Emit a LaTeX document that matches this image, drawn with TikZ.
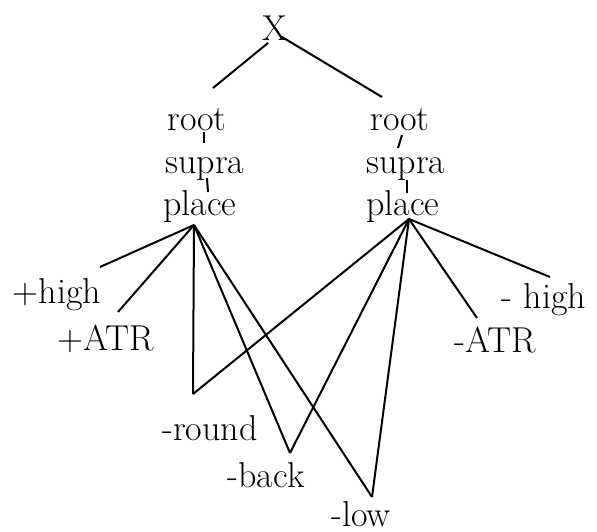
\documentclass[tikz,border=0pt]{standalone}
\usepackage{amssymb,amsmath}
\usepackage{tikz}

\begin{document}
\begin{tikzpicture}[x=0.75pt,y=-0.75pt,
  feat/.style={font=\fontsize{27}{30}\selectfont,inner sep=0pt,anchor=base},
  tie/.style={line width=1.5pt}]
\useasboundingbox (0,0) rectangle (597,532);
% labels
\node[feat] (X) at (275,40) {X};
\node[feat] (rootL) at (197,130) {root};
\node[feat] (supraL) at (205,173) {supra};
\node[feat] (placeL) at (200,215) {place};
\node[feat] (rootR) at (400,130) {root};
\node[feat] (supraR) at (406,173) {supra};
\node[feat] (placeR) at (403,215) {place};
\node[feat] (highP) at (57,303) {+high};
\node[feat] (atrP) at (106,350) {+ATR};
\node[feat] (round) at (210,440) {-round};
\node[feat] (back) at (266,487) {-back};
\node[feat] (low) at (361,526) {-low};
\node[feat] (atrM) at (495,352) {-ATR};
\node[feat] (highM) at (544,308) {- high};
% line ends
\coordinate (xL) at (268,43);
\coordinate (xR) at (282,37);
\coordinate (rL) at (213,88);
\coordinate (rR) at (382,97);
\coordinate (pL) at (194,225);
\coordinate (pR) at (409,219);
\coordinate (eHighP) at (100,267);
\coordinate (eAtrP) at (118,312);
\coordinate (eRound) at (193,394);
\coordinate (eBack) at (290,453);
\coordinate (eLow) at (372,497);
\coordinate (eAtrM) at (477,318);
\coordinate (eHighM) at (550,277);
% tree
\draw[tie] (xL) -- (rL);
\draw[tie] (xR) -- (rR);
\draw[tie] (204,132) -- (204,143);
\draw[tie] (207,178) -- (208,192);
\draw[tie] (402,135) -- (398,148);
\draw[tie] (407,180) -- (407,193);
% left place
\draw[tie] (pL) -- (eHighP);
\draw[tie] (pL) -- (eAtrP);
\draw[tie] (pL) -- (eRound);
\draw[tie] (pL) -- (eBack);
\draw[tie] (pL) -- (eLow);
% right place
\draw[tie] (pR) -- (eRound);
\draw[tie] (pR) -- (eBack);
\draw[tie] (pR) -- (eLow);
\draw[tie] (pR) -- (eAtrM);
\draw[tie] (pR) -- (eHighM);
\end{tikzpicture}
\end{document}
